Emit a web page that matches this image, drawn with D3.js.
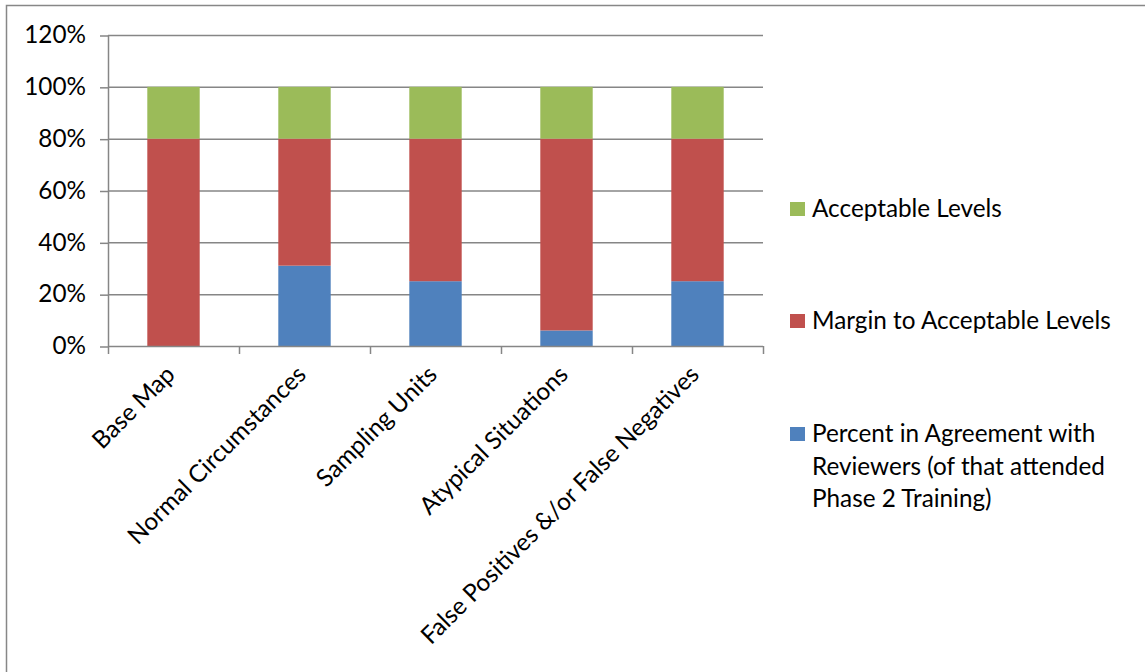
<!DOCTYPE html>
<html>
<head>
<meta charset="utf-8">
<script src="https://cdn.jsdelivr.net/npm/d3@7"></script>
<style>
	body { margin: 0; background: #fff; }
	svg { display: block; font-family: Lato, "Open Sans", sans-serif; }
</style>
</head>
<body>
<svg id="chart" width="1145" height="672"></svg>
<script>
var categories = ["Base Map", "Normal Circumstances", "Sampling Units", "Atypical Situations", "False Positives &/or False Negatives"];
var agreement = [0, 0.31, 0.25, 0.06, 0.25];
var margin2Acceptable = [0.80, 0.49, 0.55, 0.74, 0.55];
var acceptable = [0.20, 0.20, 0.20, 0.20, 0.20];
var yTicks = [0, 0.2, 0.4, 0.6, 0.8, 1.0, 1.2];
var seriesNames = ["Percent in Agreement with Reviewers (of that attended Phase 2 Training)", "Margin to Acceptable Levels", "Acceptable Levels"];
var colors = ["#4f81bd", "#c0504d", "#9bbb59"];

var margin = {top: 35, left: 108},
	width = 655,
	height = 311,
	fontSize = 24.3;

var svg = d3.select("#chart");

// outer frame (only top and left show)
svg.append("path")
	.attr("d", "M6.5,672V5.5H1145")
	.attr("fill", "none")
	.attr("stroke", "#878787")
	.attr("stroke-width", 1.5);

var g = svg.append("g")
	.attr("transform", "translate(" + margin.left + "," + margin.top + ")");

var x = d3.scaleBand().domain(categories).range([0, width]).paddingInner(0.6).paddingOuter(0.3);
var xb = d3.scaleBand().domain(categories).range([0, width]);
var y = d3.scaleLinear().domain([0, 1.2]).range([height, 0]);

// gridlines
g.append("g")
	.selectAll("line")
	.data(yTicks.slice(1))
	.enter().append("line")
	.attr("x1", 0).attr("x2", width)
	.attr("y1", d => y(d) + 0.5).attr("y2", d => y(d) + 0.5)
	.attr("stroke", "#868686")
	.attr("stroke-width", 1.5);

// y axis
var yAxis = g.append("g")
	.call(d3.axisLeft(y).tickValues(yTicks).tickFormat(d3.format(".0%")).tickSize(8).tickPadding(14));
yAxis.select(".domain").attr("stroke", "#868686").attr("stroke-width", 1.5).attr("d", "M0.5," + height + "V0");
yAxis.selectAll(".tick line").attr("stroke", "#868686").attr("stroke-width", 1.5).attr("transform", "translate(0,0.5)");
yAxis.selectAll("text").attr("font-size", fontSize).attr("fill", "#000").attr("font-family", "Lato, 'Open Sans', sans-serif");

// stacked bars
var rows = categories.map((c, i) => ({cat: c, s0: agreement[i], s1: margin2Acceptable[i], s2: acceptable[i]}));
var stacked = d3.stack().keys(["s0", "s1", "s2"])(rows);

g.append("g")
	.selectAll("g")
	.data(stacked)
	.enter().append("g")
	.attr("fill", (d, i) => colors[i])
	.selectAll("rect")
	.data(d => d)
	.enter().append("rect")
	.attr("x", d => x(d.data.cat))
	.attr("width", x.bandwidth())
	.attr("y", d => y(d[1]))
	.attr("height", d => y(d[0]) - y(d[1]));

// x axis
var xAxis = g.append("g")
	.attr("transform", "translate(0," + height + ")");
xAxis.append("line")
	.attr("x1", 0).attr("x2", width)
	.attr("y1", 0.5).attr("y2", 0.5)
	.attr("stroke", "#868686").attr("stroke-width", 1.5);
xAxis.selectAll(".xt")
	.data(d3.range(categories.length + 1))
	.enter().append("line")
	.attr("x1", i => i * xb.bandwidth() + 0.5).attr("x2", i => i * xb.bandwidth() + 0.5)
	.attr("y1", 0).attr("y2", 8)
	.attr("stroke", "#868686").attr("stroke-width", 1.5);
xAxis.selectAll("text")
	.data(categories)
	.enter().append("text")
	.attr("transform", d => "translate(" + (xb(d) + xb.bandwidth() / 2 + 3) + ",30) rotate(-45)")
	.attr("text-anchor", "end")
	.attr("font-size", fontSize)
	.attr("fill", "#000")
	.text(d => d);

// legend
var legendY = [209, 321, 434];
var legend = svg.append("g");
[2, 1, 0].forEach((s, k) => {
	var item = legend.append("g").attr("transform", "translate(790," + legendY[k] + ")");
	item.append("rect").attr("x", 0).attr("y", -7).attr("width", 15).attr("height", 14).attr("fill", colors[s]);
	var lines = s === 0 ? ["Percent in Agreement with", "Reviewers (of that attended", "Phase 2 Training)"] : [seriesNames[s]];
	item.append("text")
		.attr("x", 22)
		.attr("font-size", fontSize)
		.attr("fill", "#000")
		.selectAll("tspan")
		.data(lines)
		.enter().append("tspan")
		.attr("x", 22)
		.attr("y", (d, i) => i * 32.5 + 8)
		.text(d => d);
});
</script>
</body>
</html>
